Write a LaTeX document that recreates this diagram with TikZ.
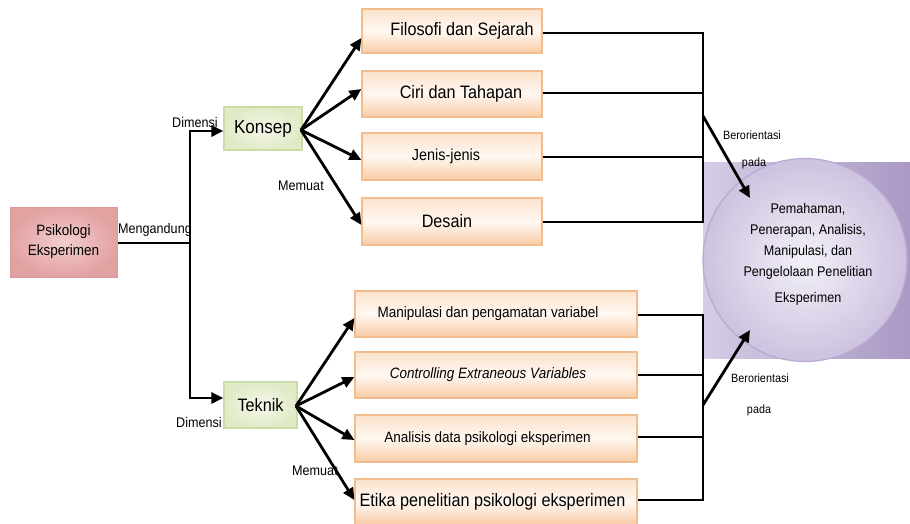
\documentclass[tikz,border=0pt]{standalone}
\usepackage{fontspec}
\setmainfont{Liberation Sans}[FakeStretch=0.9]
\usetikzlibrary{arrows.meta,shapes.geometric,calc}
\definecolor{orbd}{HTML}{F3BC8E}
\definecolor{ortop}{HTML}{FBE2CC}
\definecolor{ormid}{HTML}{FFF8F2}
\definecolor{orbot}{HTML}{F8CBA4}
\definecolor{grbd}{HTML}{CCDCA6}
\definecolor{grin}{HTML}{F5F8EB}
\definecolor{grout}{HTML}{E0EAC6}
\definecolor{rdbd}{HTML}{DC9A9A}
\definecolor{rdin}{HTML}{F3CDCD}
\definecolor{rdout}{HTML}{E3A2A2}
\definecolor{pul}{HTML}{D6CCE5}
\definecolor{pur}{HTML}{A999C4}
\definecolor{elbd}{HTML}{B9A9D3}
\definecolor{elin}{HTML}{F3F0F8}
\definecolor{elout}{HTML}{CDC2DF}
\tikzset{
  orbox/.style={draw=orbd, line width=1.2pt, top color=ortop, bottom color=orbot, middle color=ormid, inner sep=0pt, font=\fontsize{18}{21}\selectfont},
  grbox/.style={draw=grbd, line width=1.2pt, inner color=grin, outer color=grout, inner sep=0pt, font=\fontsize{19}{22}\selectfont},
  rdbox/.style={draw=rdbd, line width=1pt, inner color=rdin, outer color=rdout, inner sep=0pt, align=center, font=\fontsize{15}{20}\selectfont},
  lbl/.style={inner sep=0pt, font=\fontsize{14}{16}\selectfont},
  slbl/.style={inner sep=0pt, font=\fontsize{12}{14}\selectfont},
  conn/.style={line width=1.8pt, black},
  arr/.style={line width=2.8pt, black, -{Triangle[length=12pt,width=11pt]}},
}
\begin{document}
\begin{tikzpicture}[x=1pt,y=-1pt]
\useasboundingbox (0,0) rectangle (910,523);
% purple background
\fill[left color=pul, right color=pur] (703,162) rectangle (910,358);
\node[ellipse, draw=elbd, line width=1.2pt, inner color=elin, outer color=elout, minimum width=204pt, minimum height=203pt] (goal) at (805,260) {};
\node[align=center, inner sep=0pt, font=\fontsize{14}{21}\selectfont] (goaltext) at (808,254) {Pemahaman,\\ Penerapan, Analisis,\\ Manipulasi, dan\\ Pengelolaan Penelitian\\[5pt] Eksperimen};

% main nodes
\node[rdbox, minimum width=107pt, minimum height=70pt] (psi) at (63.5,242) {Psikologi\\Eksperimen};
\node[grbox, minimum width=78pt, minimum height=43pt] (konsep) at (263,128.5) {Konsep};
\node[grbox, minimum width=73pt, minimum height=46pt, font=\fontsize{18}{21}\selectfont] (teknik) at (260.5,405) {Teknik};

% top boxes
\node[orbox, minimum width=180pt, minimum height=44pt] (filo) at (452,31) {\hspace*{20pt}Filosofi dan Sejarah};
\node[orbox, minimum width=180pt, minimum height=46pt] (ciri) at (452,94) {\hspace*{18pt}Ciri dan Tahapan};
\node[orbox, minimum width=180pt, minimum height=47pt, font=\fontsize{16}{19}\selectfont] (jenis) at (452,156.5) {Jenis-jenis\hspace*{12pt}};
\node[orbox, minimum width=180pt, minimum height=47pt] (desain) at (452,221.5) {Desain\hspace*{10pt}};

% bottom boxes
\node[orbox, minimum width=282pt, minimum height=46pt, font=\fontsize{15}{18}\selectfont] (manip) at (496,314) {Manipulasi dan pengamatan variabel\hspace*{16pt}};
\node[orbox, minimum width=282pt, minimum height=46pt, font=\fontsize{15}{18}\selectfont\itshape] (ctrl) at (496,375) {Controlling Extraneous Variables\hspace*{16pt}};
\node[orbox, minimum width=282pt, minimum height=47pt, font=\fontsize{15}{18}\selectfont] (anal) at (496,438.5) {Analisis data psikologi eksperimen\hspace*{17pt}};
\node[orbox, minimum width=282pt, minimum height=46pt] (etika) at (496,502) {Etika penelitian psikologi eksperimen\hspace*{7pt}};

% left connectors
\coordinate (jm) at (190,243);
\coordinate (jk) at (190,131);
\coordinate (jt) at (190,398);
\draw[conn] (psi.east |- jm) -- (jm);
\draw[conn] (jk) -- (jt);
\draw[arr] ([xshift=-1pt]jk) -- (jk -| konsep.west);
\draw[arr] ([xshift=-1pt]jt) -- (jt -| teknik.west);
\node[lbl] (lmeng) at (155,230) {Mengandung};
\node[lbl] (ldim1) at (195,122) {Dimensi};
\node[lbl] (ldim2) at (199,422) {Dimensi};

% konsep branches
\coordinate (kc) at (301,130);
\draw[arr] (kc) -- ($(filo.west)+(0,7)$);
\draw[arr] (kc) -- ($(ciri.west)+(0,-5)$);
\draw[arr] (kc) -- ($(jenis.west)+(0,3.5)$);
\draw[arr] (kc) -- ($(desain.west)+(0,3.5)$);
\node[lbl] (lmem1) at (301,186) {Memuat};

% teknik branches
\coordinate (tc) at (296,406);
\draw[arr] (tc) -- ($(manip.west)+(0,4)$);
\draw[arr] (tc) -- ($(ctrl.west)+(0,2)$);
\draw[arr] (tc) -- ($(anal.west)+(0,1.5)$);
\draw[arr] (tc) -- ($(etika.west)+(0,-2)$);
\node[lbl] (lmem2) at (315,471) {Memuat};

% right bus top
\draw[conn] (filo.east |- 0,33) -- (703,33);
\draw[conn] (ciri.east |- 0,93) -- (703,93);
\draw[conn] (jenis.east |- 0,157) -- (703,157);
\draw[conn] (desain.east |- 0,222) -- (703,222);
\draw[conn] (703,32) -- (703,223);
\coordinate (at1) at (703,116);
\draw[arr] (at1) -- ($(goal.center)+(-55,-62)$);
\node[slbl] (lber1) at (752,135) {Berorientasi};
\node[slbl] (lpada1) at (754,163) {pada};

% right bus bottom
\draw[conn] (manip.east |- 0,315) -- (703,315);
\draw[conn] (ctrl.east |- 0,375) -- (703,375);
\draw[conn] (anal.east |- 0,437) -- (703,437);
\draw[conn] (etika.east |- 0,500) -- (703,500);
\draw[conn] (703,314) -- (703,501);
\coordinate (at2) at (703,405);
\draw[arr] (at2) -- ($(goal.center)+(-55,70)$);
\node[slbl] (lber2) at (760,378) {Berorientasi};
\node[slbl] (lpada2) at (759,410) {pada};
\end{tikzpicture}
\end{document}
